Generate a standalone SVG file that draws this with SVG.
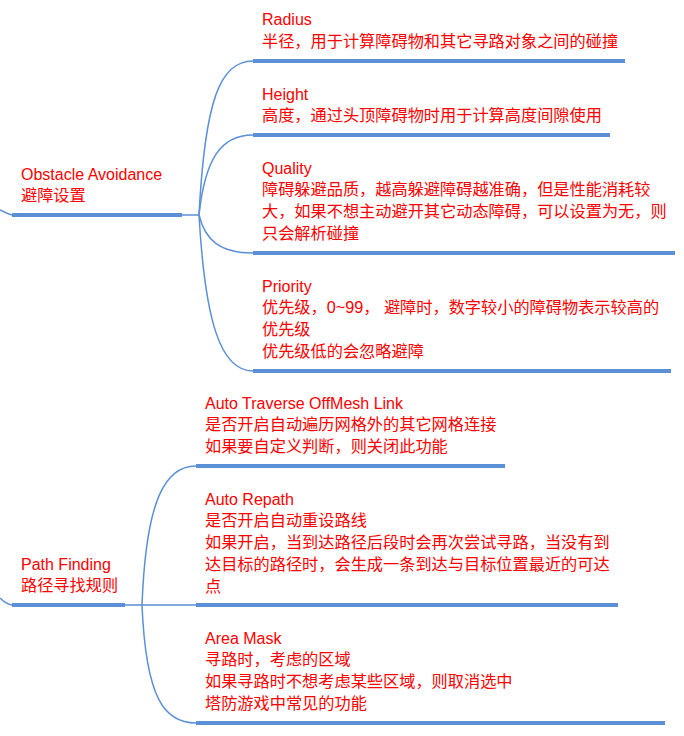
<svg xmlns="http://www.w3.org/2000/svg" width="684" height="736" viewBox="0 0 684 736">
<style>
text{font-family:"Liberation Sans","Noto Sans CJK SC",sans-serif;fill:#ff0000;font-size:16.2px}
.t{font-size:16px}
.u{stroke:#5b8fd6;stroke-width:4;fill:none}
.c{stroke:#5b8fd6;stroke-width:1.5;fill:none}
</style>
<rect width="684" height="736" fill="#fff"/>
<g id="connectors">
<path class="c" d="M0,210 Q8,214 12,215"/>
<path class="c" d="M0,598 Q6,604 12,605"/>
<path class="c" d="M182,215 H199"/>
<path class="c" d="M199,215 C205,100 220,61 253,61"/>
<path class="c" d="M199,215 C205,160 220,135 253,135"/>
<path class="c" d="M199,215 C205,240 220,253 253,253"/>
<path class="c" d="M199,215 C205,320 220,371 253,371"/>
<path class="c" d="M125,605 H196"/>
<path class="c" d="M142,605 C146,500 165,466 196,466"/>
<path class="c" d="M142,605 C146,700 165,723 196,723"/>
</g>
<g id="obstacle"><path class="u" d="M12,215 H182"/><text class="t" x="21" y="180">Obstacle Avoidance</text><text x="21" y="201">避障设置</text></g>
<g id="radius"><path class="u" d="M253,61 H625"/><text class="t" x="262" y="25">Radius</text><text x="262" y="47">半径，用于计算障碍物和其它寻路对象之间的碰撞</text></g>
<g id="height"><path class="u" d="M253,135 H610"/><text class="t" x="262" y="100">Height</text><text x="262" y="121">高度，通过头顶障碍物时用于计算高度间隙使用</text></g>
<g id="quality"><path class="u" d="M253,253 H675"/><text class="t" x="262" y="174">Quality</text><text x="262" y="195">障碍躲避品质，越高躲避障碍越准确，但是性能消耗较</text><text x="262" y="217">大，如果不想主动避开其它动态障碍，可以设置为无，则</text><text x="262" y="239">只会解析碰撞</text></g>
<g id="priority"><path class="u" d="M253,371 H671"/><text class="t" x="262" y="292">Priority</text><text x="262" y="313">优先级，0~99， 避障时，数字较小的障碍物表示较高的</text><text x="262" y="335">优先级</text><text x="262" y="357">优先级低的会忽略避障</text></g>
<g id="pathfinding"><path class="u" d="M12,605 H125"/><text class="t" x="21" y="570">Path Finding</text><text x="21" y="591">路径寻找规则</text></g>
<g id="autotraverse"><path class="u" d="M196,466 H505"/><text class="t" x="205" y="409">Auto Traverse OffMesh Link</text><text x="205" y="430">是否开启自动遍历网格外的其它网格连接</text><text x="205" y="452">如果要自定义判断，则关闭此功能</text></g>
<g id="autorepath"><path class="u" d="M196,605 H618"/><text class="t" x="205" y="505">Auto Repath</text><text x="205" y="526">是否开启自动重设路线</text><text x="205" y="548">如果开启，当到达路径后段时会再次尝试寻路，当没有到</text><text x="205" y="570">达目标的路径时，会生成一条到达与目标位置最近的可达</text><text x="205" y="592">点</text></g>
<g id="areamask"><path class="u" d="M196,723 H665"/><text class="t" x="205" y="644">Area Mask</text><text x="205" y="665">寻路时，考虑的区域</text><text x="205" y="687">如果寻路时不想考虑某些区域，则取消选中</text><text x="205" y="709">塔防游戏中常见的功能</text></g>
</svg>
